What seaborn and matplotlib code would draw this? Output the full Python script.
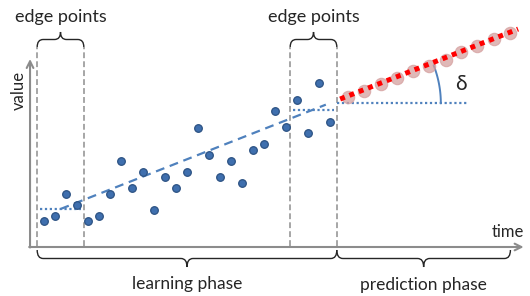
import numpy as np
import pandas as pd
import matplotlib
matplotlib.use("Agg")
import matplotlib.pyplot as plt
from matplotlib.path import Path
from matplotlib.patches import PathPatch
import seaborn as sns

# 学习阶段的观测点 (时间序号, 数值)
learn_t = list(range(27))
learn_v = [25, 30, 52, 41, 25, 30, 52, 85, 58, 74, 36, 69, 58, 74, 118,
           91, 69, 85, 63, 96, 102, 135, 119, 146, 113, 163, 124]

# 预测阶段的点
pred_t = [27.6, 29.1, 30.6, 32.1, 33.5, 35.0, 36.5, 37.9, 39.4, 40.9, 42.4]
pred_v = [149, 155, 162, 168, 175, 180, 186, 194, 200, 207, 213]

n_edge = 4
edge_label = "edge points"
phase_labels = ["learning phase", "prediction phase"]
axis_labels = ["time", "value"]

BLUE = "#4f81bd"
GRAY = "#a6a6a6"
AXIS = "#8c8c8c"
DARK = "#262626"
SX = 11.0  # 每个时间单位对应的像素

sns.set_theme(style="white")
plt.rcParams["font.family"] = ["Lato", "DejaVu Sans"]

fig = plt.figure(figsize=(5.3, 2.96), dpi=100)
ax = fig.add_axes([0, 0, 1, 1])
ax.set_xlim(-4, 44.18)
ax.set_ylim(-50, 246)
ax.axis("off")


def brace(t0, t1, v, h, d):
    r = 6 / SX
    mid = v + d * h / 2
    tip = v + d * h
    tm = (t0 + t1) / 2
    verts = [(t0, v), (t0, mid), (t0 + r, mid), (tm - r, mid), (tm, mid), (tm, tip),
             (tm, mid), (tm + r, mid), (t1 - r, mid), (t1, mid), (t1, v)]
    codes = [Path.MOVETO, Path.CURVE3, Path.CURVE3, Path.LINETO, Path.CURVE3, Path.CURVE3,
             Path.CURVE3, Path.CURVE3, Path.LINETO, Path.CURVE3, Path.CURVE3]
    ax.add_patch(PathPatch(Path(verts, codes), fill=False, color=DARK, lw=1.0))


# 坐标轴箭头
ax.annotate("", xy=(-1.27, 187), xytext=(-1.27, -1.5),
            arrowprops=dict(arrowstyle="->", color=AXIS, lw=1.5, shrinkA=0, shrinkB=0))
ax.annotate("", xy=(43.6, -1), xytext=(-1.35, -1),
            arrowprops=dict(arrowstyle="->", color=AXIS, lw=1.5, shrinkA=0, shrinkB=0))
ax.text(42.2, 14, axis_labels[0], ha="center", va="center", fontsize=12, color=DARK)
ax.text(-2.3, 156, axis_labels[1], ha="center", va="center", rotation=90,
        fontsize=12, color=DARK)

# 边缘点窗口
pad = 0.62
windows = [(learn_t[0] - pad, learn_t[n_edge - 1] + pad),
           (learn_t[-n_edge] - pad, learn_t[-1] + pad)]
means = [np.mean(learn_v[:n_edge]), np.mean(learn_v[-n_edge:])]
centers = [np.mean(learn_t[:n_edge]), np.mean(learn_t[-n_edge:])]
for (a, b), m in zip(windows, means):
    for x in (a, b):
        ax.plot([x, x], [0, 199], color=GRAY, lw=1.4, ls=(0, (3, 1.6)))
    ax.plot([a + 0.3, b - 0.3], [m, m], color=BLUE, lw=1.6, ls=(0, (1, 1.2)))
    brace(a, b, 199, 15, 1)
    ax.text((a + b) / 2, 229, edge_label, ha="center", va="center", fontsize=13, color=DARK)

# 趋势线 (两个窗口均值连线)
slope = (means[1] - means[0]) / (centers[1] - centers[0])
trend = lambda t: means[0] + slope * (t - centers[0])
t_end = windows[1][1] - 1.0
ax.plot([centers[0], t_end], [trend(centers[0]), trend(t_end)],
        color=BLUE, lw=1.6, ls=(0, (4, 2.6)))

# 学习点
sns.scatterplot(x=learn_t, y=learn_v, ax=ax, s=30, color="#3f6fae",
                edgecolor="#2c5283", linewidth=0.9, zorder=5)

# 预测基线和预测线
t_s = windows[1][1]
v_s = trend(t_s)
base_v = v_s - 3
ax.plot([t_s, 38.5], [base_v, base_v], color=BLUE, lw=1.6, ls=(0, (1, 1.2)))
sns.scatterplot(x=pred_t, y=pred_v, ax=ax, s=80, color="#d5a09f", alpha=0.75,
                edgecolor="#d5a09f", linewidth=0.8, zorder=4)
t_r = 43.1
sns.lineplot(x=[t_s + 0.3, t_r], y=[trend(t_s + 0.3), trend(t_r)], ax=ax, color="#ff0000",
             lw=3.6, ls=(0, (1, 1)), zorder=6)

# 角度弧 δ
R = 104
ang = np.linspace(0, np.arctan(slope / SX), 40)
ax.plot(t_s + R * np.cos(ang) / SX, base_v + R * np.sin(ang), color=BLUE, lw=1.4)
ax.text(37.9, 162, "δ", ha="center", va="center", fontsize=15, color=DARK)

# 阶段括号
brace(windows[0][0], windows[1][1], -4, 17, -1)
brace(windows[1][1], pred_t[-1], -4, 17, -1)
ax.text((windows[0][0] + windows[1][1]) / 2, -38, phase_labels[0],
        ha="center", va="center", fontsize=12.5, color=DARK)
ax.text((windows[1][1] + pred_t[-1]) / 2, -39, phase_labels[1],
        ha="center", va="center", fontsize=12.5, color=DARK)

plt.savefig("out.png", dpi=100)
